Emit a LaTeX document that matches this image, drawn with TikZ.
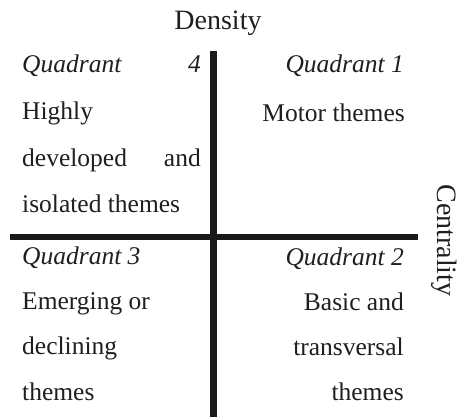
\documentclass[tikz,border=0pt]{standalone}
\usepackage{fontspec}
\setmainfont{Liberation Serif}
\begin{document}
\begin{tikzpicture}[x=1pt,y=-1pt,
  lbl/.style={inner sep=0pt,font=\fontsize{25.5}{30}\selectfont,text=black!88},
  qlbl/.style={lbl,font=\fontsize{25.5}{30}\selectfont\itshape},
  axlbl/.style={lbl,font=\fontsize{28}{32}\selectfont},
  axisbar/.style={line width=6.5pt,draw=black!90}]
\useasboundingbox[fill=white] (0,0) rectangle (459,417);

% axes
\coordinate (vtop) at (213.5,51);
\coordinate (vbot) at (213.5,417);
\coordinate (hl) at (10,237);
\coordinate (hr) at (418,237);
\draw[axisbar] (vtop) -- (vbot);
\draw[axisbar] (hl) -- (hr);

% axis titles
\node[axlbl,anchor=base] (density) at (218,30) {Density};
\node[axlbl,anchor=base,rotate=-90] (centrality) at (437.5,240.5) {Centrality};

% quadrant 4 (top left)
\node[qlbl,anchor=base west] (q4a) at (22,73) {Quadrant};
\node[qlbl,anchor=base east] (q4b) at (201,73) {4};
\node[lbl,anchor=base west] (q4c) at (22,120) {Highly};
\node[lbl,anchor=base west] (q4d) at (22,167) {developed};
\node[lbl,anchor=base east] (q4e) at (201,167) {and};
\node[lbl,anchor=base west] (q4f) at (22,213) {isolated themes};

% quadrant 1 (top right)
\node[qlbl,anchor=base east] (q1a) at (404,73) {Quadrant 1};
\node[lbl,anchor=base east] (q1b) at (405,122) {Motor themes};

% quadrant 3 (bottom left)
\node[qlbl,anchor=base west] (q3a) at (22,265) {Quadrant 3};
\node[lbl,anchor=base west] (q3b) at (22,310) {Emerging or};
\node[lbl,anchor=base west] (q3c) at (22,355) {declining};
\node[lbl,anchor=base west] (q3d) at (22,401) {themes};

% quadrant 2 (bottom right)
\node[qlbl,anchor=base east] (q2a) at (404,266) {Quadrant 2};
\node[lbl,anchor=base east] (q2b) at (404,311) {Basic and};
\node[lbl,anchor=base east] (q2c) at (404,356) {transversal};
\node[lbl,anchor=base east] (q2d) at (404,401) {themes};
\end{tikzpicture}
\end{document}
